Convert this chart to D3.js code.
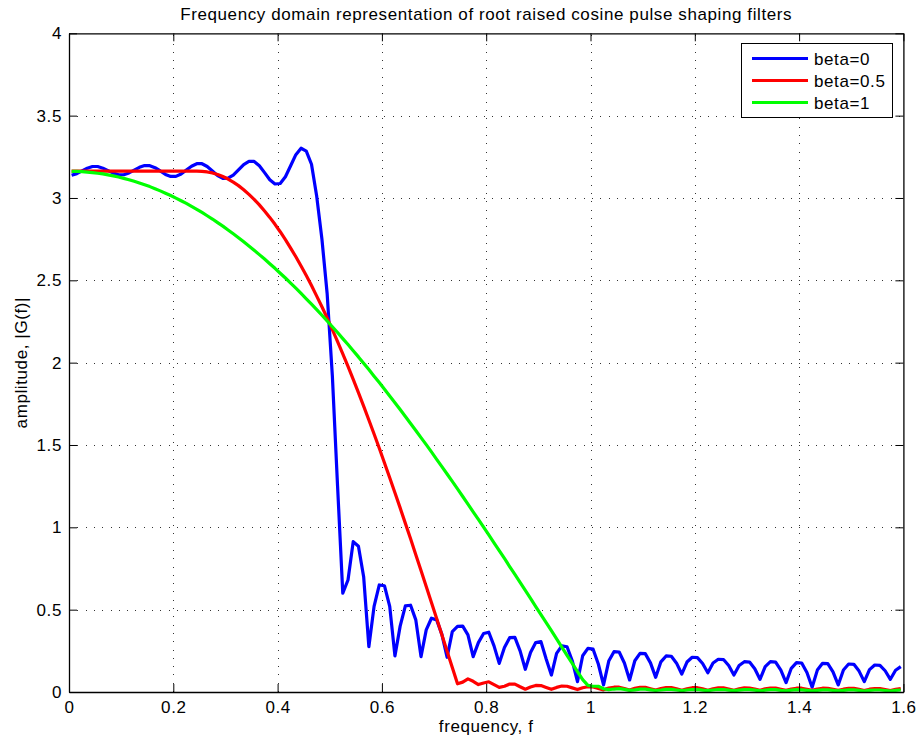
<!DOCTYPE html>
<html>
<head>
<meta charset="utf-8">
<script src="https://cdn.jsdelivr.net/npm/d3@7"></script>
<style>
  html, body { margin: 0; padding: 0; background: #fff; }
  svg { display: block; }
  text { font-family: "Liberation Sans", Arial, Helvetica, sans-serif; letter-spacing: 0.6px; fill: #000; }
</style>
</head>
<body>
<svg id="chart" width="916" height="743"></svg>
<script>
// ---- data ----
const titleText = "Frequency domain representation of root raised cosine pulse shaping filters";
const xLabel = "frequency, f";
const yLabel = "amplitude, |G(f)|";
const xTicks = [0, 0.2, 0.4, 0.6, 0.8, 1, 1.2, 1.4, 1.6];
const xTickLabels = ["0", "0.2", "0.4", "0.6", "0.8", "1", "1.2", "1.4", "1.6"];
const yTicks = [0, 0.5, 1, 1.5, 2, 2.5, 3, 3.5, 4];
const yTickLabels = ["0", "0.5", "1", "1.5", "2", "2.5", "3", "3.5", "4"];
const seriesNames = ["beta=0", "beta=0.5", "beta=1"];

const freq = [
0.005,0.015,0.025,0.035,0.045,0.055,0.065,0.075,0.085,0.095,
0.105,0.115,0.125,0.135,0.145,0.155,0.165,0.175,0.185,0.195,
0.205,0.215,0.225,0.235,0.245,0.255,0.265,0.275,0.285,0.295,
0.305,0.315,0.325,0.335,0.345,0.355,0.365,0.375,0.385,0.395,
0.405,0.415,0.425,0.435,0.445,0.455,0.465,0.475,0.485,0.495,
0.505,0.515,0.525,0.535,0.545,0.555,0.565,0.575,0.585,0.595,
0.605,0.615,0.625,0.635,0.645,0.655,0.665,0.675,0.685,0.695,
0.705,0.715,0.725,0.735,0.745,0.755,0.765,0.775,0.785,0.795,
0.805,0.815,0.825,0.835,0.845,0.855,0.865,0.875,0.885,0.895,
0.905,0.915,0.925,0.935,0.945,0.955,0.965,0.975,0.985,0.995,
1.005,1.015,1.025,1.035,1.045,1.055,1.065,1.075,1.085,1.095,
1.105,1.115,1.125,1.135,1.145,1.155,1.165,1.175,1.185,1.195,
1.205,1.215,1.225,1.235,1.245,1.255,1.265,1.275,1.285,1.295,
1.305,1.315,1.325,1.335,1.345,1.355,1.365,1.375,1.385,1.395,
1.405,1.415,1.425,1.435,1.445,1.455,1.465,1.475,1.485,1.495,
1.505,1.515,1.525,1.535,1.545,1.555,1.565,1.575,1.585,1.595];

const beta0 = [
3.138,3.148,3.165,3.181,3.191,3.191,3.181,3.166,3.151,3.141,
3.141,3.152,3.169,3.186,3.197,3.196,3.184,3.164,3.143,3.131,
3.131,3.146,3.170,3.193,3.208,3.208,3.191,3.164,3.136,3.119,
3.120,3.139,3.171,3.203,3.222,3.222,3.196,3.154,3.111,3.085,
3.088,3.129,3.196,3.263,3.302,3.285,3.205,3.010,2.750,2.420,
1.920,1.250,0.600,0.680,0.913,0.885,0.700,0.275,0.520,0.650,
0.645,0.520,0.219,0.400,0.523,0.527,0.438,0.215,0.377,0.448,
0.438,0.350,0.211,0.367,0.398,0.400,0.347,0.215,0.300,0.355,
0.363,0.280,0.174,0.270,0.330,0.332,0.250,0.138,0.240,0.300,
0.306,0.200,0.103,0.235,0.280,0.275,0.190,0.063,0.220,0.265,
0.260,0.170,0.043,0.188,0.245,0.243,0.176,0.073,0.190,0.235,
0.233,0.177,0.089,0.183,0.219,0.217,0.175,0.109,0.182,0.211,
0.209,0.173,0.117,0.176,0.199,0.197,0.161,0.103,0.161,0.184,
0.182,0.141,0.077,0.154,0.184,0.182,0.133,0.057,0.144,0.178,
0.176,0.118,0.029,0.133,0.174,0.172,0.122,0.043,0.134,0.170,
0.168,0.127,0.063,0.136,0.164,0.162,0.129,0.077,0.132,0.154];

const beta05 = [
3.163,3.163,3.163,3.163,3.163,3.163,3.163,3.163,3.163,3.163,
3.163,3.163,3.163,3.163,3.163,3.163,3.163,3.163,3.163,3.163,
3.163,3.163,3.163,3.163,3.163,3.162,3.158,3.152,3.143,3.130,
3.115,3.096,3.075,3.050,3.022,2.992,2.958,2.921,2.882,2.840,
2.795,2.747,2.696,2.643,2.587,2.529,2.468,2.404,2.339,2.271,
2.201,2.128,2.054,1.977,1.899,1.818,1.736,1.652,1.567,1.480,
1.391,1.301,1.210,1.118,1.024,0.930,0.834,0.738,0.641,0.544,
0.446,0.347,0.248,0.149,0.050,0.060,0.080,0.065,0.045,0.055,
0.062,0.045,0.028,0.035,0.048,0.048,0.032,0.017,0.030,0.040,
0.039,0.028,0.016,0.028,0.036,0.035,0.025,0.015,0.026,0.032,
0.031,0.022,0.013,0.024,0.029,0.029,0.021,0.012,0.022,0.028,
0.028,0.020,0.012,0.021,0.027,0.027,0.020,0.011,0.020,0.026,
0.026,0.019,0.011,0.020,0.025,0.025,0.018,0.011,0.019,0.025,
0.024,0.018,0.010,0.019,0.024,0.024,0.017,0.010,0.018,0.023,
0.023,0.017,0.010,0.018,0.023,0.022,0.016,0.010,0.017,0.022,
0.022,0.016,0.009,0.017,0.021,0.021,0.015,0.009,0.016,0.021];

const beta1 = [
3.162,3.161,3.160,3.157,3.154,3.150,3.146,3.140,3.134,3.127,
3.119,3.111,3.101,3.091,3.080,3.069,3.056,3.043,3.029,3.015,
2.999,2.983,2.967,2.949,2.931,2.912,2.892,2.872,2.850,2.829,
2.806,2.783,2.759,2.734,2.709,2.683,2.656,2.629,2.601,2.573,
2.543,2.514,2.483,2.452,2.420,2.388,2.355,2.322,2.288,2.253,
2.218,2.183,2.146,2.110,2.072,2.035,1.996,1.958,1.918,1.879,
1.838,1.798,1.757,1.715,1.673,1.631,1.588,1.545,1.502,1.458,
1.413,1.369,1.324,1.279,1.233,1.187,1.141,1.094,1.048,1.001,
0.954,0.906,0.858,0.811,0.762,0.714,0.666,0.617,0.568,0.519,
0.470,0.421,0.372,0.322,0.273,0.223,0.174,0.124,0.075,0.040,
0.035,0.035,0.020,0.014,0.018,0.020,0.016,0.010,0.013,0.017,
0.017,0.013,0.009,0.012,0.016,0.016,0.012,0.008,0.012,0.015,
0.015,0.011,0.008,0.012,0.015,0.015,0.011,0.008,0.011,0.014,
0.014,0.011,0.007,0.011,0.014,0.014,0.010,0.007,0.011,0.014,
0.013,0.010,0.007,0.010,0.013,0.013,0.010,0.007,0.010,0.013,
0.013,0.010,0.006,0.010,0.012,0.012,0.009,0.006,0.010,0.012];

const seriesColors = ["#0000ff", "#ff0000", "#00ff00"];

// ---- drawing ----
const svg = d3.select("#chart");
const xScale = d3.scaleLinear().domain([0, 1.6]).range([69, 903.4]);
const yScale = d3.scaleLinear().domain([0, 4]).range([692, 33.3]);
const X0 = xScale.range()[0], X1 = xScale.range()[1], Y0 = yScale.range()[0], Y1 = yScale.range()[1];
const FS = 17;

// grid
const grid = svg.append("g").attr("stroke", "#333").attr("stroke-width", 1)
  .attr("stroke-dasharray", "1,7.3").attr("shape-rendering", "crispEdges");
grid.selectAll("line.vx").data(xTicks.slice(1, -1)).join("line")
  .attr("x1", d => Math.round(xScale(d)) + 0.5).attr("x2", d => Math.round(xScale(d)) + 0.5)
  .attr("y1", Y0).attr("y2", Y1);
grid.selectAll("line.hy").data(yTicks.slice(1, -1)).join("line")
  .attr("y1", d => Math.round(yScale(d)) + 0.5).attr("y2", d => Math.round(yScale(d)) + 0.5)
  .attr("x1", X0).attr("x2", X1);

// curves
const lineGen = d3.line().x(d => xScale(d[0])).y(d => yScale(d[1]));
[beta0, beta05, beta1].forEach((vals, i) => {
  svg.append("path")
    .datum(freq.map((f, k) => [f, vals[k]]))
    .attr("fill", "none")
    .attr("stroke", seriesColors[i])
    .attr("stroke-width", 3.2)
    .attr("stroke-linejoin", "round")
    .attr("d", lineGen);
});

// axes
const TL = 8;
const axB = svg.append("g").attr("transform", `translate(0,${Y0})`)
  .call(d3.axisBottom(xScale).tickValues(xTicks).tickFormat((d, i) => xTickLabels[i])
    .tickSizeInner(-TL).tickSizeOuter(0).tickPadding(9));
const axL = svg.append("g").attr("transform", `translate(${X0},0)`)
  .call(d3.axisLeft(yScale).tickValues(yTicks).tickFormat((d, i) => yTickLabels[i])
    .tickSizeInner(-TL).tickSizeOuter(0).tickPadding(7));
const axT = svg.append("g").attr("transform", `translate(0,${Y1})`)
  .call(d3.axisTop(xScale).tickValues(xTicks).tickFormat("").tickSizeInner(-TL).tickSizeOuter(0));
const axR = svg.append("g").attr("transform", `translate(${X1},0)`)
  .call(d3.axisRight(yScale).tickValues(yTicks).tickFormat("").tickSizeInner(-TL).tickSizeOuter(0));
[axB, axL, axT, axR].forEach(g => {
  g.selectAll("path.domain").attr("stroke", "#000").attr("stroke-width", 1.3);
  g.selectAll(".tick line").attr("stroke", "#000").attr("stroke-width", 1);
  g.selectAll("text").attr("font-size", FS).attr("font-family", null).attr("fill", "#000");
});

// title and labels
svg.append("text").attr("x", (X0 + X1) / 2).attr("y", 19.5)
  .attr("text-anchor", "middle").attr("font-size", FS).text(titleText);
svg.append("text").attr("x", (X0 + X1) / 2).attr("y", 731.5)
  .attr("text-anchor", "middle").attr("font-size", FS).text(xLabel);
svg.append("text").attr("transform", `translate(27,${(Y0 + Y1) / 2}) rotate(-90)`)
  .attr("text-anchor", "middle").attr("font-size", FS).text(yLabel);

// legend
const lg = svg.append("g");
lg.append("rect").attr("x", 741.5).attr("y", 43.5).attr("width", 151).attr("height", 74)
  .attr("fill", "#fff").attr("stroke", "#000").attr("stroke-width", 1);
const rowsY = [58.5, 80.5, 102.5];
seriesNames.forEach((name, i) => {
  lg.append("line").attr("x1", 752).attr("x2", 808).attr("y1", rowsY[i]).attr("y2", rowsY[i])
    .attr("stroke", seriesColors[i]).attr("stroke-width", 3.2);
  lg.append("text").attr("x", 814).attr("y", rowsY[i]).attr("dy", "0.36em")
    .attr("font-size", FS).text(name);
});
</script>
</body>
</html>
